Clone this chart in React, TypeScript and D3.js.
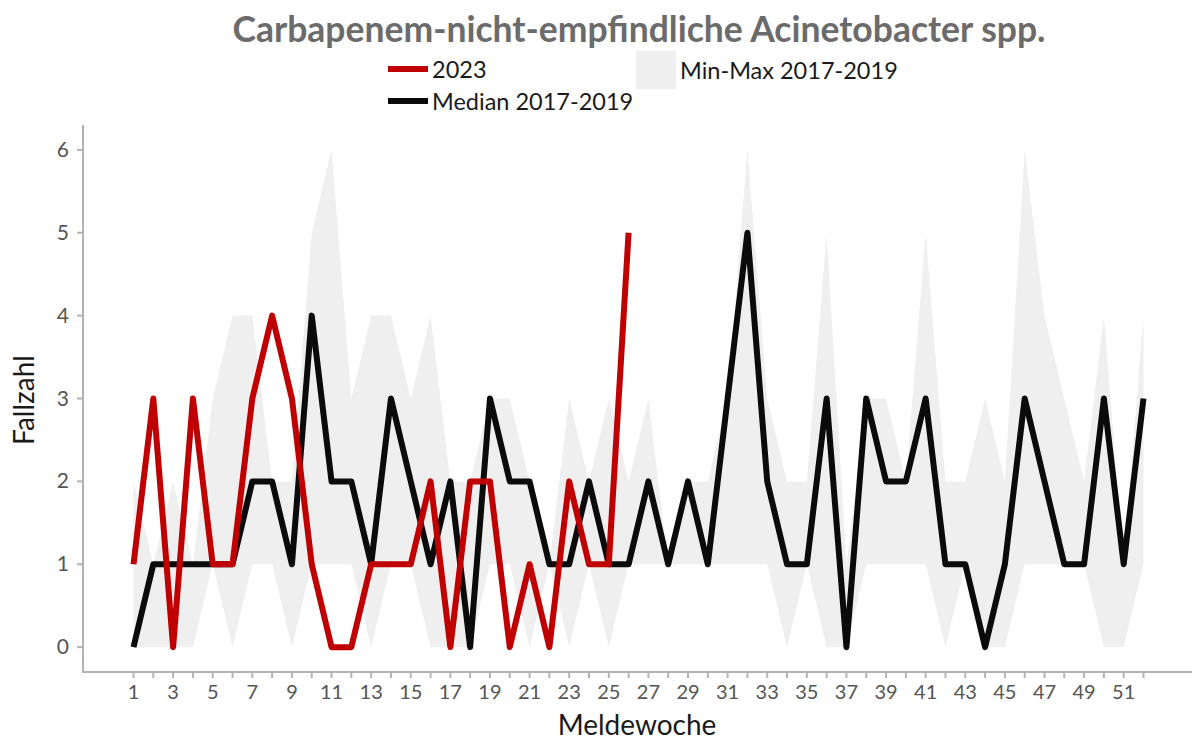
import React from "react";
import * as d3 from "d3";

const weeks: number[] = Array.from({ length: 52 }, (_, i) => i + 1);

const cases2023: number[] = [
  1, 3, 0, 3, 1, 1, 3, 4, 3, 1, 0, 0, 1, 1, 1, 2, 0, 2, 2, 0, 1, 0, 2, 1, 1, 5,
];

const median1719: number[] = [
  0, 1, 1, 1, 1, 1, 2, 2, 1, 4, 2, 2, 1, 3, 2, 1, 2, 0, 3, 2, 2, 1, 1, 2, 1, 1,
  2, 1, 2, 1, 3, 5, 2, 1, 1, 3, 0, 3, 2, 2, 3, 1, 1, 0, 1, 3, 2, 1, 1, 3, 1, 3,
];

const min1719: number[] = [
  0, 0, 0, 0, 1, 0, 1, 1, 0, 1, 1, 1, 0, 1, 1, 0, 0, 0, 1, 1, 0, 1, 0, 1, 0, 1,
  1, 1, 1, 1, 1, 1, 1, 0, 1, 0, 0, 1, 1, 1, 1, 0, 1, 0, 0, 1, 1, 1, 1, 0, 0, 1,
];

const max1719: number[] = [
  2, 1, 2, 1, 3, 4, 4, 2, 2, 5, 6, 3, 4, 4, 3, 4, 2, 2, 3, 3, 2, 1, 3, 2, 3, 2,
  3, 1, 2, 2, 3, 6, 3, 2, 2, 5, 1, 3, 3, 2, 5, 2, 2, 3, 2, 6, 4, 3, 2, 4, 1, 4,
];

const yTicks: number[] = [0, 1, 2, 3, 4, 5, 6];
const xTickLabels: number[] = weeks.filter((w) => w % 2 === 1 && w <= 51);

const title = "Carbapenem-nicht-empfindliche Acinetobacter spp.";
const legend2023 = "2023";
const legendMedian = "Median 2017-2019";
const legendBand = "Min-Max 2017-2019";
const xTitle = "Meldewoche";
const yTitle = "Fallzahl";

const RED = "#c00000";
const BLACK = "#0b0b0b";
const BAND = "#efefef";
const AXIS = "#b3b3b3";
const FONT = "Lato, 'Open Sans', sans-serif";

export default function App() {
  const width = 1192;
  const height = 740;

  const x = d3.scaleLinear().domain([-1.55, 54.55]).range([83, 1194]);
  const y = d3.scaleLinear().domain([-0.3, 6.3]).range([672, 125]);

  const area = d3
    .area<number>()
    .x((_, i) => x(weeks[i]))
    .y0((_, i) => y(min1719[i]))
    .y1((d) => y(d));

  const line = d3
    .line<number>()
    .x((_, i) => x(weeks[i]))
    .y((d) => y(d));

  return (
    <svg
      width={width}
      height={height}
      style={{ position: "absolute", left: 0, top: 0, background: "#fff" }}
      fontFamily={FONT}
    >
      <rect x={0} y={0} width={width} height={height} fill="#fff" />
      {/* Title */}
      <text
        x={639}
        y={42}
        textAnchor="middle"
        fontSize={35.5}
        fontWeight={700}
        fill="#6b6b6b"
      >
        {title}
      </text>

      {/* Legend */}
      <line x1={388} x2={428} y1={69} y2={69} stroke={RED} strokeWidth={6} />
      <text x={432} y={78} fontSize={23.5} fill="#1a1a1a">
        {legend2023}
      </text>
      <line x1={388} x2={428} y1={101} y2={101} stroke={BLACK} strokeWidth={6} />
      <text x={432} y={110} fontSize={23.5} fill="#1a1a1a">
        {legendMedian}
      </text>
      <rect x={636} y={51} width={40} height={38} fill={BAND} />
      <text x={680} y={79} fontSize={23.5} fill="#1a1a1a">
        {legendBand}
      </text>

      {/* Band */}
      <path d={area(max1719) || ""} fill={BAND} stroke="none" />

      {/* Median */}
      <path
        d={line(median1719) || ""}
        fill="none"
        stroke={BLACK}
        strokeWidth={6}
        strokeLinejoin="round"
        strokeLinecap="butt"
      />

      {/* 2023 */}
      <path
        d={line(cases2023) || ""}
        fill="none"
        stroke={RED}
        strokeWidth={6}
        strokeLinejoin="round"
        strokeLinecap="butt"
      />

      {/* Axes */}
      <line x1={83} x2={83} y1={125} y2={673} stroke={AXIS} strokeWidth={2} />
      <line x1={82} x2={1192} y1={672} y2={672} stroke={AXIS} strokeWidth={2} />

      {yTicks.map((t) => (
        <g key={"y" + t}>
          <line x1={77} x2={83} y1={y(t)} y2={y(t)} stroke={AXIS} strokeWidth={2} />
          <text
            x={69}
            y={y(t) + 7}
            textAnchor="end"
            fontSize={21}
            fill="#555"
          >
            {t}
          </text>
        </g>
      ))}

      {weeks.map((w) => (
        <line
          key={"xt" + w}
          x1={x(w)}
          x2={x(w)}
          y1={672}
          y2={678}
          stroke={AXIS}
          strokeWidth={2}
        />
      ))}
      {xTickLabels.map((w) => (
        <text
          key={"xl" + w}
          x={x(w)}
          y={699}
          textAnchor="middle"
          fontSize={20}
          fill="#555"
        >
          {w}
        </text>
      ))}

      <text x={637} y={735} textAnchor="middle" fontSize={28} fill="#1a1a1a">
        {xTitle}
      </text>
      <text
        transform={`translate(34, 400) rotate(-90)`}
        textAnchor="middle"
        fontSize={28}
        fill="#1a1a1a"
      >
        {yTitle}
      </text>
    </svg>
  );
}
